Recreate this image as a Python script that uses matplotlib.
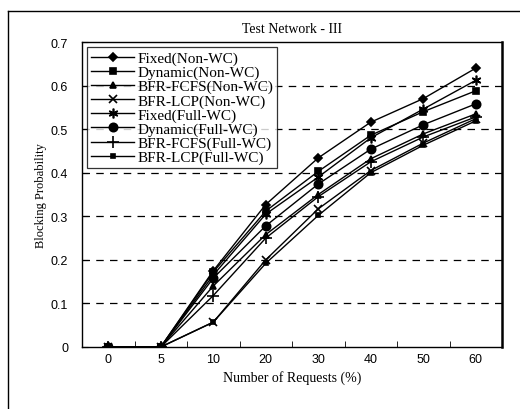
import matplotlib
matplotlib.use('Agg')
import matplotlib.pyplot as plt
from matplotlib.lines import Line2D
import numpy as np

# Request load categories (%), plotted at equal spacing
requests = ['0', '5', '10', '20', '30', '40', '50', '60']

fixed_non_wc = [0, 0, 0.175, 0.327, 0.434, 0.516, 0.570, 0.640]
dynamic_non_wc = [0, 0, 0.172, 0.312, 0.403, 0.486, 0.540, 0.588]
bfr_fcfs_non_wc = [0, 0, 0.140, 0.258, 0.350, 0.432, 0.489, 0.535]
bfr_lcp_non_wc = [0, 0, 0.057, 0.200, 0.317, 0.405, 0.468, 0.524]
fixed_full_wc = [0, 0, 0.165, 0.305, 0.390, 0.480, 0.546, 0.612]
dynamic_full_wc = [0, 0, 0.158, 0.278, 0.374, 0.454, 0.510, 0.558]
bfr_fcfs_full_wc = [0, 0, 0.118, 0.250, 0.345, 0.425, 0.482, 0.528]
bfr_lcp_full_wc = [0, 0, 0.057, 0.192, 0.302, 0.400, 0.463, 0.519]

series = [
    ('Fixed(Non-WC)', fixed_non_wc, 'D', 4),
    ('Dynamic(Non-WC)', dynamic_non_wc, 's', 5),
    ('BFR-FCFS(Non-WC)', bfr_fcfs_non_wc, '^', 5),
    ('BFR-LCP(Non-WC)', bfr_lcp_non_wc, 'x', 6),
    ('Fixed(Full-WC)', fixed_full_wc, (6, 2, 0), 7),
    ('Dynamic(Full-WC)', dynamic_full_wc, 'o', 6),
    ('BFR-FCFS(Full-WC)', bfr_fcfs_full_wc, '+', 8),
    ('BFR-LCP(Full-WC)', bfr_lcp_full_wc, 's', 3),
]

serif = 'Liberation Serif'
sans = 'Liberation Sans'

fig = plt.figure(figsize=(5.2, 4.1), dpi=100)
ax = fig.add_axes([82 / 520, 1 - 348 / 410, 420 / 520, 305 / 410])

pos = np.arange(len(requests))
for name, vals, mk, ms in series:
    ax.plot(pos, vals, color='black', lw=1.0, marker=mk, markersize=ms,
            markeredgewidth=1.2, label=name)

ax.set_xlim(-0.5, len(requests) - 0.5)
ax.set_ylim(0, 0.7)
ax.set_xticks(pos)
ax.set_xticklabels(requests, fontfamily=sans, fontsize=9)
ax.set_xticks(pos[:-1] + 0.5, minor=True)
ax.tick_params(axis='x', which='major', length=0, pad=4)
ax.tick_params(axis='x', which='minor', length=4, direction='in')
ax.set_yticks(np.arange(0, 0.71, 0.1))
ax.set_yticklabels(['0', '0.1', '0.2', '0.3', '0.4', '0.5', '0.6', '0.7'],
                   fontfamily=sans, fontsize=9)
ax.tick_params(axis='y', length=4, direction='in', pad=10)

for yv in np.arange(0.1, 0.65, 0.1):
    ax.axhline(yv, color='black', lw=0.9, ls=(0, (6, 5)), zorder=0)

for sp in ax.spines.values():
    sp.set_color('black')
    sp.set_linewidth(1.0)
ax.spines['right'].set_linewidth(1.8)

ax.set_title('Test Network - III', fontfamily=serif, fontsize=10, pad=7)
ax.set_xlabel('Number of Requests (%)', fontfamily=serif, fontsize=10, labelpad=4)
ax.set_ylabel('Blocking Probability', fontfamily=serif, fontsize=9, labelpad=3)

leg = ax.legend(loc='upper left', prop={'family': serif, 'size': 11},
                frameon=True, fancybox=False, edgecolor='black',
                handlelength=2.8, handletextpad=0.25, labelspacing=0.02,
                borderpad=0.25, borderaxespad=0.35)
leg.get_frame().set_linewidth(0.9)

# outer frame around the whole figure
fig.add_artist(Line2D([8 / 520, 8 / 520], [0, 1 - 12 / 410], color='black', lw=1.0))
fig.add_artist(Line2D([8 / 520, 1], [1 - 12 / 410, 1 - 12 / 410], color='black', lw=1.0))

fig.savefig('out.png', dpi=100)
